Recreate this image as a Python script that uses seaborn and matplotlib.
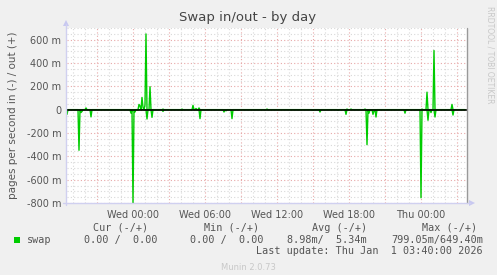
import numpy as np
import pandas as pd
import matplotlib
matplotlib.use("Agg")
import matplotlib.pyplot as plt
import seaborn as sns
from matplotlib.patches import Polygon, Rectangle

# ---- data (minutes relative to Wed 00:00, values in milli pages/s) ----
out_minutes = [-235, 30, 35, 45, 50, 60, 65, 85, 150, 245, 300, 315, 330, 670,
               1070, 1090, 1160, 1445, 1470, 1505, 1595]
out_values = [15, 45, 30, 105, 20, 40, 649, 197, 5, 5, 37, 10, 15, 5,
              5, 5, 5, 5, 150, 507, 45]
in_minutes = [-330, -270, -260, -255, -210, -10, 0, 10, 70, 95, 150, 245, 335,
              455, 465, 495, 900, 935, 1025, 1065, 1170, 1180, 1190, 1200,
              1205, 1215, 1360, 1440, 1475, 1490, 1510, 1600]
in_values = [40, 348, 25, 15, 62, 30, 799, 20, 80, 66, 15, 5, 77,
             20, 10, 77, 5, 20, 5, 40, 300, 30, 5, 40,
             10, 63, 30, 755, 91, 25, 63, 46]

tick_minutes = [0, 360, 720, 1080, 1440]
tick_labels = ["Wed 00:00", "Wed 06:00", "Wed 12:00", "Wed 18:00", "Thu 00:00"]
ytick_vals = [-800, -600, -400, -200, 0, 200, 400, 600]
ytick_labels = ["-800 m", "-600 m", "-400 m", "-200 m", "0", "200 m", "400 m", "600 m"]

legend_name = "swap"
cur_txt = "0.00 /  0.00"
min_txt = "0.00 /  0.00"
avg_txt = "8.98m/  5.34m"
max_txt = "799.05m/649.40m"
last_update = "Last update: Thu Jan  1 03:40:00 2026"

# ---- build 5-minute series ----
t_grid = np.arange(-330, 1665, 5)
out_s = pd.Series(0.0, index=t_grid)
out_s.loc[out_minutes] = out_values
in_s = pd.Series(0.0, index=t_grid)
in_s.loc[in_minutes] = [-v for v in in_values]
df = pd.DataFrame({"t": t_grid, "out": out_s.values, "in": in_s.values})

sns.set_style("white")
plt.rcParams["font.family"] = ["DejaVu Sans"]

W, H = 497, 275
fig = plt.figure(figsize=(W / 100, H / 100), dpi=100, facecolor="#f0f0f0")
L, R, T, B = 67, 467, 28, 203
ax = fig.add_axes([L / W, 1 - B / H, (R - L) / W, (B - T) / H])
ax.set_facecolor("#ffffff")

xmin, xmax = -330, (467 - 133) * 5
ax.set_xlim(xmin, xmax)
ax.set_ylim(-800, 700)

# grid
ax.set_yticks(ytick_vals)
ax.set_yticks(np.arange(-800, 701, 50), minor=True)
ax.set_xticks(tick_minutes)
ax.set_xticks(np.arange(-300, 1670, 60), minor=True)
for v in np.arange(-300, 1670, 60):
    c = "#e8a8a8" if v % 180 == 0 else "#d8d8d8"
    ax.axvline(v, color=c, lw=0.8, ls=(0, (1, 2)), zorder=0)
for v in np.arange(-800, 701, 50):
    c = "#e8a8a8" if v % 200 == 0 else "#d8d8d8"
    ax.axhline(v, color=c, lw=0.8, ls=(0, (1, 2)), zorder=0)

# data
sns.lineplot(data=df, x="t", y="out", ax=ax, color="#00cc00", lw=1.0, zorder=3)
sns.lineplot(data=df, x="t", y="in", ax=ax, color="#00cc00", lw=1.0, zorder=3)
ax.axhline(0, color="#000000", lw=1.2, zorder=4)

ax.set_xticklabels(tick_labels)
ax.set_yticklabels(ytick_labels)
ax.tick_params(axis="both", which="both", length=0, labelsize=7, colors="#555555", pad=4)
ax.tick_params(axis="x", pad=5)
ax.set_xlabel("")
ax.set_ylabel("pages per second in (-) / out (+)", fontsize=7.5, color="#555555", labelpad=6)
for s in ["top", "right", "bottom", "left"]:
    ax.spines[s].set_visible(False)

# frame lines / arrows in figure pixel coords
def fx(px):
    return px / W

def fy(py):
    return 1 - py / H

fig.add_artist(plt.Line2D([fx(467), fx(467)], [fy(28), fy(203)], color="#999999", lw=1.0))
fig.add_artist(plt.Line2D([fx(66), fx(66)], [fy(24), fy(205)], color="#d0d0f0", lw=1.0))
fig.add_artist(plt.Line2D([fx(63), fx(470)], [fy(203), fy(203)], color="#d0d0f0", lw=1.0))
fig.add_artist(Polygon([[fx(63), fy(26)], [fx(69), fy(26)], [fx(66), fy(20)]],
                       closed=True, color="#c8c8f0", lw=0))
fig.add_artist(Polygon([[fx(469), fy(200)], [fx(469), fy(206)], [fx(475), fy(203)]],
                       closed=True, color="#c8c8f0", lw=0))

# title & side text
fig.text(fx(248), fy(18), "Swap in/out - by day", ha="center", va="center",
         fontsize=9.5, color="#444444")
fig.text(fx(490), fy(55), "RRDTOOL / TOBI OETIKER", ha="center", va="center",
         rotation=270, fontsize=5.5, color="#c8c8c8")

# legend area (monospace)
mono = dict(family="DejaVu Sans Mono", fontsize=7.3, color="#555555", va="center")
fig.text(fx(121), fy(228), "Cur (-/+)", ha="center", **mono)
fig.text(fx(232), fy(228), "Min (-/+)", ha="center", **mono)
fig.text(fx(340), fy(228), "Avg (-/+)", ha="center", **mono)
fig.text(fx(450), fy(228), "Max (-/+)", ha="center", **mono)
fig.add_artist(Rectangle((fx(14), fy(243)), 6 / W, 6 / H, color="#00cc00", lw=0))
fig.text(fx(27), fy(240), legend_name, ha="left", **mono)
fig.text(fx(157), fy(240), cur_txt, ha="right", **mono)
fig.text(fx(264), fy(240), min_txt, ha="right", **mono)
fig.text(fx(367), fy(240), avg_txt, ha="right", **mono)
fig.text(fx(483), fy(240), max_txt, ha="right", **mono)
fig.text(fx(483), fy(251), last_update, ha="right", **mono)
fig.text(fx(248), fy(268), "Munin 2.0.73", ha="center", va="center",
         fontsize=6, color="#c8c8c8")

fig.savefig("out.png", dpi=100, facecolor=fig.get_facecolor())
